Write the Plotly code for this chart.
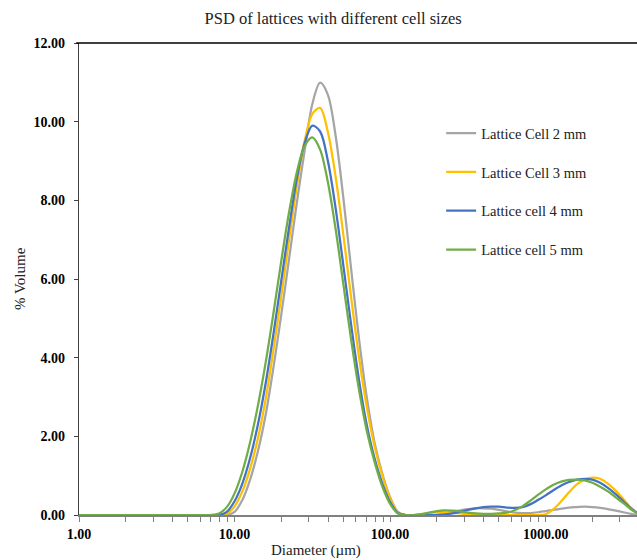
import plotly.graph_objects as go

diameter = [1.0, 3.162, 6.310, 7.079, 7.943, 8.913, 10.0, 11.22, 12.59, 14.13, 15.85, 17.78,
            19.95, 22.39, 25.12, 28.18, 31.62, 35.48, 39.81, 44.67, 50.12, 56.23, 63.10,
            70.79, 79.43, 89.13, 100.0, 112.2, 125.9, 141.3, 158.5, 177.8, 199.5, 223.9,
            251.2, 281.8, 316.2, 354.8, 398.1, 446.7, 501.2, 562.3, 631.0, 707.9, 794.3,
            891.3, 1000, 1122, 1259, 1413, 1585, 1778, 1995, 2239, 2512, 2818, 3162, 3548, 3981]

cell_2mm = [0, 0, 0, 0, 0, 0, 0.08, 0.38, 0.9, 1.62, 2.55, 3.75, 5.08, 6.5, 7.93, 9.25, 10.45, 10.99,
            10.68, 9.63, 8.04, 6.23, 4.48, 2.99, 1.84, 1.05, 0.45, 0.08, 0, 0, 0, 0, 0.01, 0.04, 0.08,
            0.12, 0.15, 0.17, 0.17, 0.16, 0.13, 0.09, 0.06, 0.05, 0.05, 0.07, 0.1, 0.13, 0.16, 0.19,
            0.2, 0.21, 0.2, 0.18, 0.15, 0.11, 0.07, 0.03, 0]

cell_3mm = [0, 0, 0, 0, 0, 0.03, 0.22, 0.6, 1.18, 1.95, 2.95, 4.2, 5.55, 6.98, 8.35, 9.5, 10.2,
            10.35, 9.73, 8.59, 7.1, 5.51, 4.01, 2.75, 1.75, 1.0, 0.42, 0.07, 0, 0, 0.02, 0.05, 0.07,
            0.07, 0.06, 0.04, 0.02, 0.01, 0, 0, 0, 0, 0, 0, 0, 0, 0.02, 0.15, 0.35, 0.58, 0.78,
            0.9, 0.95, 0.92, 0.8, 0.62, 0.4, 0.18, 0.02]

cell_4mm = [0, 0, 0, 0, 0, 0.08, 0.35, 0.8, 1.45, 2.3, 3.35, 4.6, 5.95, 7.3, 8.55, 9.45, 9.9, 9.75,
            9.0, 7.79, 6.32, 4.82, 3.43, 2.29, 1.44, 0.8, 0.33, 0.05, 0, 0, 0, 0, 0, 0.01, 0.04,
            0.08, 0.13, 0.17, 0.2, 0.21, 0.21, 0.19, 0.18, 0.2, 0.27, 0.38, 0.5, 0.63, 0.75,
            0.84, 0.9, 0.92, 0.9, 0.82, 0.69, 0.53, 0.35, 0.16, 0.02]

cell_5mm = [0, 0, 0, 0, 0.04, 0.2, 0.55, 1.1, 1.85, 2.78, 3.88, 5.13, 6.45, 7.69, 8.71, 9.38, 9.6,
            9.29, 8.46, 7.26, 5.85, 4.44, 3.18, 2.14, 1.35, 0.72, 0.28, 0.04, 0, 0, 0.02, 0.06, 0.1,
            0.12, 0.11, 0.09, 0.06, 0.04, 0.03, 0.03, 0.04, 0.06, 0.12, 0.22, 0.36, 0.51, 0.65,
            0.77, 0.85, 0.89, 0.9, 0.88, 0.82, 0.72, 0.6, 0.45, 0.3, 0.14, 0.02]

series_names = ["Lattice Cell 2 mm", "Lattice Cell 3 mm", "Lattice cell 4 mm", "Lattice cell 5 mm"]
series_values = [cell_2mm, cell_3mm, cell_4mm, cell_5mm]
series_colors = ["#A5A5A5", "#FFC000", "#4472C4", "#70AD47"]

x_major = [1, 10, 100, 1000]
x_major_text = ["1.00", "10.00", "100.00", "1000.00"]
x_minor = [2, 3, 4, 5, 6, 7, 8, 9, 20, 30, 40, 50, 60, 70, 80, 90,
           200, 300, 400, 500, 600, 700, 800, 900, 2000, 3000]
y_ticks = [0, 2, 4, 6, 8, 10, 12]
y_text = ["0.00", "2.00", "4.00", "6.00", "8.00", "10.00", "12.00"]

FONT = "Liberation Serif"

fig = go.Figure()
for i, (name, vals, col) in enumerate(zip(series_names, series_values, series_colors)):
    fig.add_trace(go.Scatter(x=diameter, y=vals, name=name, mode="lines",
                             line=dict(color=col, width=2.25, shape="spline", smoothing=0.9),
                             legendgroup=f"g{i}"))

xrange = [0, 3.587]
fig.update_layout(
    width=637, height=560,
    margin=dict(l=79, r=0, t=43, b=45),
    paper_bgcolor="white", plot_bgcolor="white",
    font=dict(family=FONT, color="#000000"),
    showlegend=True,
    legend=dict(x=0.649, y=0.843, xanchor="left", yanchor="top",
                font=dict(family=FONT, size=14.5, color="#222222"),
                tracegroupgap=17, itemwidth=30, bgcolor="rgba(0,0,0,0)"),
    xaxis=dict(type="log", range=xrange, tickmode="array", tickvals=x_major, ticktext=x_major_text,
               ticks="outside", ticklen=5, tickwidth=1, tickcolor="#808080",
               showgrid=False, zeroline=False,
               showline=True, linecolor="#808080", linewidth=1.5,
               minor=dict(tickmode="array", tickvals=x_minor, ticks="outside", ticklen=5,
                          tickwidth=1, tickcolor="#808080", showgrid=False),
               tickfont=dict(family=FONT, size=14, color="#000000", weight="bold"),
               ticklabelstandoff=0),
    yaxis=dict(range=[0, 12], tickvals=y_ticks, ticktext=y_text, ticks="outside", ticklen=4,
               tickcolor="#404040", showgrid=False, zeroline=False, showline=True,
               linecolor="#404040", linewidth=1.2,
               tickfont=dict(family=FONT, size=14, color="#000000", weight="bold"),
               ticklabelstandoff=6),
    title=dict(text="PSD of lattices with different cell sizes", x=0.523, xref="container",
               xanchor="center", y=0.967, yref="container", yanchor="middle",
               font=dict(family=FONT, size=16.5, color="#222222")),
    annotations=[
        dict(text="Diameter (µm)", xref="paper", yref="paper", x=(316 - 79) / 558, y=(515 - 550) / 472,
             xanchor="center", yanchor="middle", showarrow=False,
             font=dict(family=FONT, size=15, color="#222222")),
        dict(text="% Volume", xref="paper", yref="paper", x=(20 - 79) / 558, y=0.5,
             xanchor="center", yanchor="middle", textangle=-90, showarrow=False,
             font=dict(family=FONT, size=15, color="#222222")),
    ],
    shapes=[dict(type="line", xref="paper", yref="paper", x0=-0.005, x1=1, y0=1, y1=1,
                 line=dict(color="#000000", width=1.5))],
)

fig.write_html("out.html")
